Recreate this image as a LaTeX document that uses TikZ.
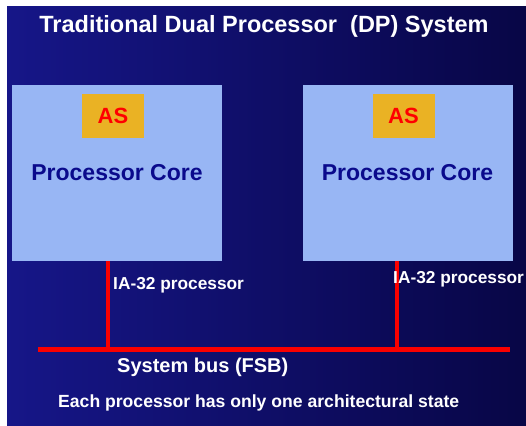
\documentclass[tikz,border=0pt]{standalone}
\usepackage{fontspec}
\setmainfont{Liberation Sans}
\usetikzlibrary{positioning, calc}

\definecolor{slideleft}{RGB}{22,22,136}
\definecolor{slideright}{RGB}{8,6,70}
\definecolor{corefill}{RGB}{152,182,244}
\definecolor{asfill}{RGB}{234,178,36}
\definecolor{coretext}{RGB}{10,10,140}
\definecolor{busred}{RGB}{250,0,0}

\begin{document}
\begin{tikzpicture}[
    x=1pt, y=-1pt,
    core/.style={
        rectangle,
        fill=corefill,
        minimum width=210pt,
        minimum height=176pt,
        inner sep=0pt,
        text=coretext,
        font=\bfseries\fontsize{23}{27}\selectfont
    },
    archstate/.style={
        rectangle,
        fill=asfill,
        minimum width=62pt,
        minimum height=44pt,
        inner sep=0pt,
        text=red,
        font=\bfseries\fontsize{22}{26}\selectfont
    },
    caption/.style={
        text=white,
        inner sep=0pt,
        font=\bfseries\fontsize{17.3}{20}\selectfont
    },
    link/.style={busred, line width=4pt},
    bus/.style={busred, line width=5pt}
]

\useasboundingbox (0,0) rectangle (526,425);

% Background
\fill[white] (0,0) rectangle (526,425);
\shade[left color=slideleft, right color=slideright] (7,7) rectangle (526,425);

% Title
\node[caption, font=\bfseries\fontsize{23.5}{27}\selectfont, anchor=base] (title) at (264,33)
    {Traditional Dual Processor\ \ (DP) System};

% Processors
\node[core] (lcore) at (117,173) {Processor Core};
\node[core] (rcore) at (407.5,173) {Processor Core};
\node[archstate, below=9pt of lcore.north, xshift=-4pt] (las) {AS};
\node[archstate, below=9pt of rcore.north, xshift=-4pt] (ras) {AS};

% Bus
\coordinate (busl) at (38,349);
\coordinate (busr) at (510,349);
\coordinate (ltap) at (108,349);
\coordinate (rtap) at (397,349);

\draw[link] (lcore.south -| ltap) -- (ltap);
\draw[link] (rcore.south -| rtap) -- (rtap);
\draw[bus] (busl) -- (busr);

% Labels
\node[caption, anchor=base west] (lia) at (113,289) {IA-32 processor};
\node[caption, anchor=base west] (ria) at (393,283) {IA-32 processor};
\node[caption, font=\bfseries\fontsize{20}{24}\selectfont, anchor=base west] (fsb) at (117,372) {System bus (FSB)};
\node[caption, font=\bfseries\fontsize{17.6}{20}\selectfont, anchor=base west] (note) at (58,407) {Each processor has only one architectural state};

\end{tikzpicture}
\end{document}
